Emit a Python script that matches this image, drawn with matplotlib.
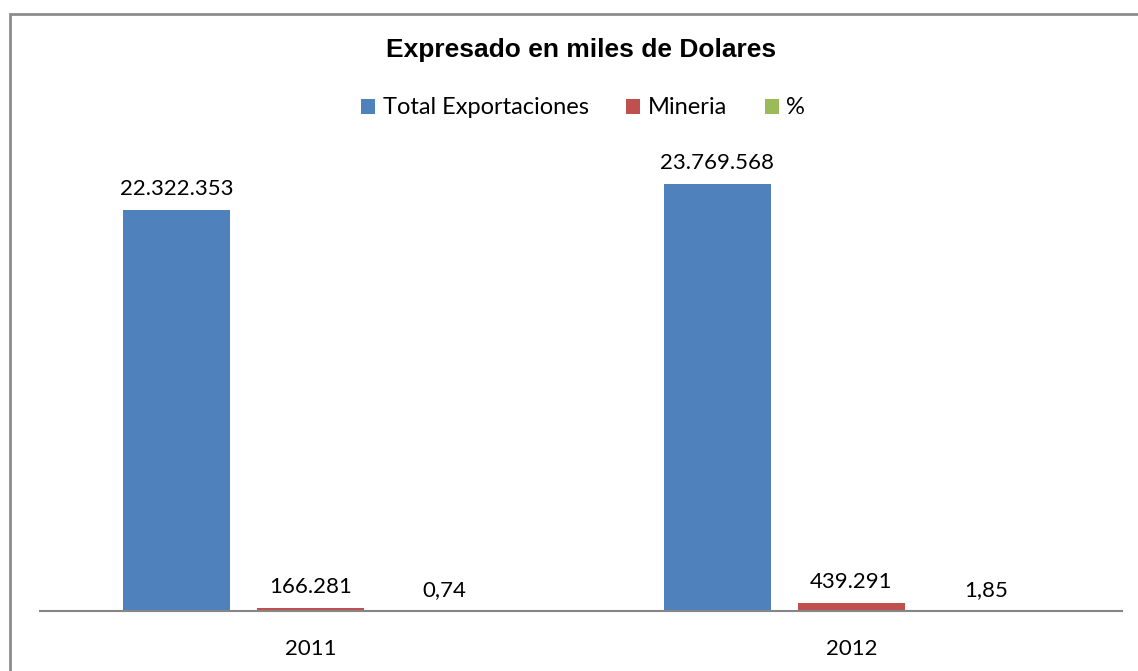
import numpy as np
import matplotlib
matplotlib.use("Agg")
import matplotlib.pyplot as plt
from matplotlib.patches import Patch, Rectangle

# data (miles de dolares)
years      = ["2011", "2012"]
series     = ["Total Exportaciones", "Mineria", "%"]
total_exp  = [22322353, 23769568]
mineria    = [166281, 439291]
porcentaje = [0.74, 1.85]
labels_tot = ["22.322.353", "23.769.568"]
labels_min = ["166.281", "439.291"]
labels_pct = ["0,74", "1,85"]

colors = ["#4F81BD", "#C0504D", "#9BBB59"]
W, H = 1138, 671

fig = plt.figure(figsize=(W / 100, H / 100), dpi=100)
fig.patch.set_facecolor("white")

# outer chart border (only top/left visible in the reference)
fig.add_artist(Rectangle((10 / W, -0.1), 1.2, (H - 14) / H + 0.1,
                         transform=fig.transFigure, fill=False,
                         edgecolor="#8C8C8C", lw=2))

ax_left, ax_right = 40 / W, 1122 / W
ax_bottom, ax_top = (H - 611) / H, (H - 150) / H
ax = fig.add_axes([ax_left, ax_bottom, ax_right - ax_left, ax_top - ax_bottom])

x = np.arange(len(years))
bw = 0.198
off = 0.248
ymax = 461 * (23769568 / 427)

all_vals = [total_exp, mineria, porcentaje]
all_labels = [labels_tot, labels_min, labels_pct]
for i, (vals, labs) in enumerate(zip(all_vals, all_labels)):
    pos = x + (i - 1) * off
    ax.bar(pos, vals, bw, color=colors[i], zorder=2)
    for p, v, lab in zip(pos, vals, labs):
        ax.annotate(lab, (p, v), textcoords="offset points", xytext=(0, 8),
                    ha="center", va="bottom", fontsize=16, family="Lato")

ax.set_xlim(-0.5, 1.5)
ax.set_ylim(0, ymax)
ax.set_yticks([])
ax.set_xticks(x)
ax.set_xticklabels(years, fontsize=16, family="Lato")
ax.tick_params(axis="x", length=0, pad=20)
for s in ["top", "right", "left"]:
    ax.spines[s].set_visible(False)
ax.spines["bottom"].set_color("#868686")
ax.spines["bottom"].set_linewidth(1.5)
ax.set_facecolor("none")

fig.text(581 / W, 1 - 50 / H, "Expresado en miles de Dolares", ha="center",
         va="center", fontsize=19, fontweight="bold", family="Liberation Sans")

handles = [Patch(facecolor=c, label=s) for c, s in zip(colors, series)]
fig.legend(handles=handles, loc="center", bbox_to_anchor=(583 / W, 1 - 108 / H),
           ncol=3, frameon=False, prop={"family": "Lato", "size": 17},
           handlelength=0.6, handleheight=0.6, handletextpad=0.3,
           columnspacing=1.6)

fig.savefig("out.png", dpi=100, facecolor="white")
